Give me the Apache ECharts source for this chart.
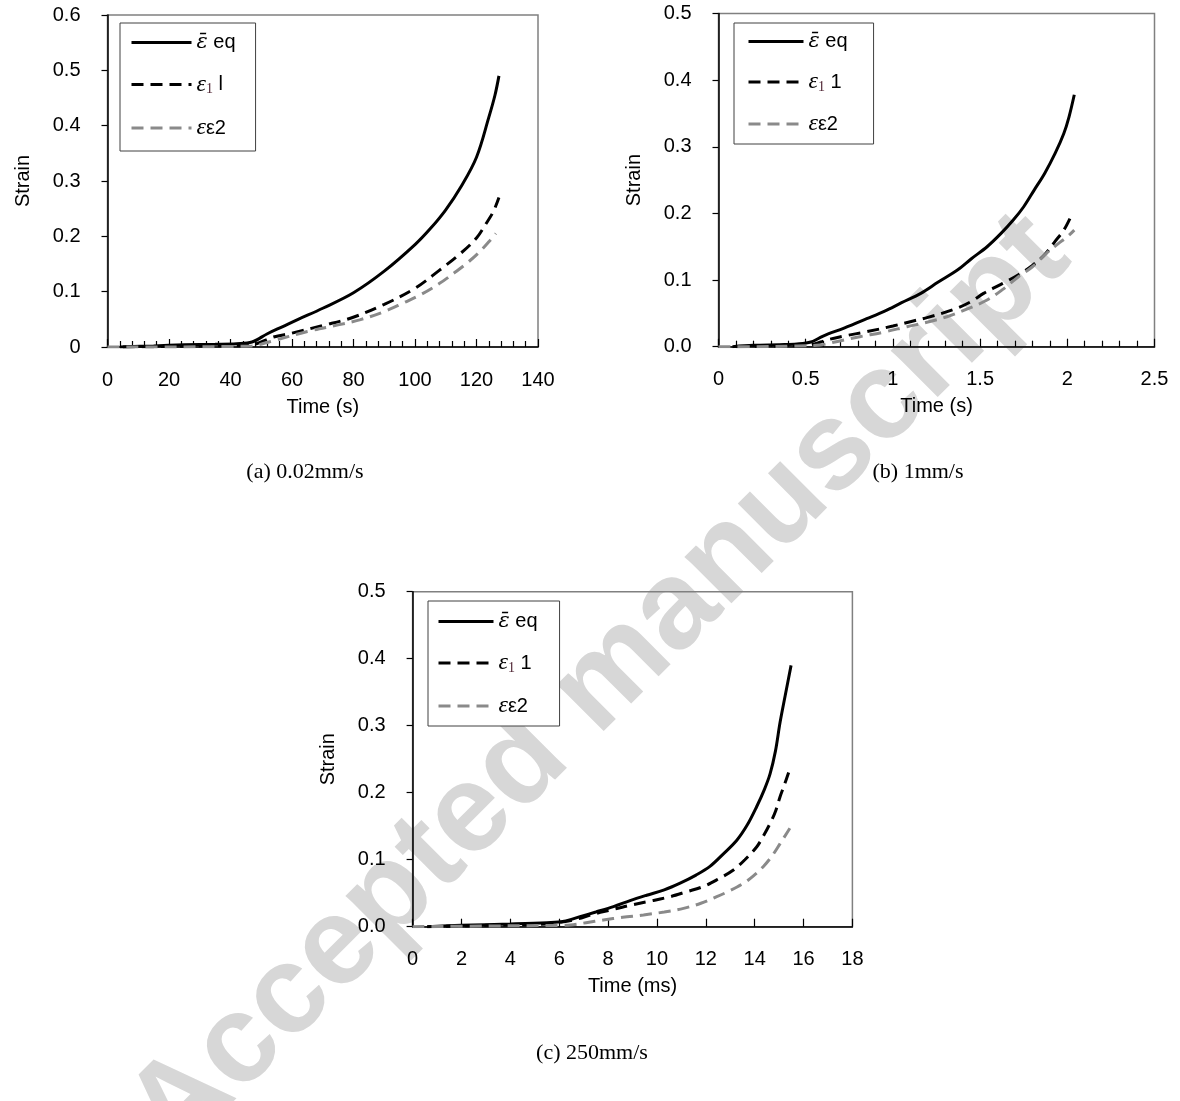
<!DOCTYPE html>
<html>
<head>
<meta charset="utf-8">
<title>Strain vs time</title>
<script src="https://cdn.jsdelivr.net/npm/echarts@6/dist/echarts.min.js"></script>
<style>
  html, body { margin: 0; padding: 0; background: #fff; }
  #chart { width: 1180px; height: 1101px; }
</style>
</head>
<body>
<div id="chart"></div>
<script>
// (a) 0.02mm/s, time in s
const tEqA = [4, 15, 25, 35, 42, 47, 52, 57, 62, 70, 80, 90, 100, 105, 110, 115, 120, 124, 126, 127.3]
const eqA = [0, 0.002, 0.004, 0.005, 0.006, 0.009, 0.024, 0.037, 0.05, 0.07, 0.098, 0.137, 0.185, 0.214, 0.248, 0.29, 0.343, 0.415, 0.455, 0.49]
const tE1A = [5, 20, 35, 45, 48, 54, 60, 70, 79, 90, 100, 108, 115, 120, 123, 125.5, 127.3]
const e1A = [0, 0.001, 0.002, 0.003, 0.005, 0.018, 0.025, 0.039, 0.052, 0.077, 0.106, 0.139, 0.17, 0.197, 0.222, 0.245, 0.27]
const tE2A = [0, 20, 40, 47, 53, 65, 75, 82, 90, 96, 102, 108, 113, 117, 121, 124, 126.3]
const e2A = [0, 0, 0.001, 0.002, 0.01, 0.028, 0.04, 0.049, 0.064, 0.079, 0.095, 0.115, 0.135, 0.152, 0.172, 0.19, 0.205]

// (b) 1mm/s, time in s
const tEqB = [0.08, 0.2, 0.35, 0.45, 0.53, 0.6, 0.72, 0.85, 0.95, 1.05, 1.16, 1.26, 1.37, 1.45, 1.54, 1.62, 1.69, 1.75, 1.81, 1.87, 1.93, 1.98, 2.01, 2.04]
const eqB = [0, 0.002, 0.003, 0.004, 0.007, 0.016, 0.028, 0.042, 0.053, 0.066, 0.08, 0.097, 0.115, 0.132, 0.15, 0.17, 0.19, 0.21, 0.235, 0.26, 0.29, 0.32, 0.345, 0.378]
const tE1B = [0.1, 0.3, 0.5, 0.55, 0.62, 0.72, 0.85, 1.0, 1.1, 1.2, 1.35, 1.45, 1.52, 1.63, 1.72, 1.8, 1.87, 1.93, 1.98, 2.02]
const e1B = [0, 0.001, 0.002, 0.004, 0.01, 0.016, 0.0225, 0.031, 0.0375, 0.044, 0.056, 0.068, 0.08, 0.095, 0.108, 0.122, 0.138, 0.158, 0.175, 0.195]
const tE2B = [0, 0.2, 0.45, 0.58, 0.7, 0.81, 0.95, 1.08, 1.2, 1.31, 1.42, 1.54, 1.63, 1.72, 1.8, 1.88, 1.95, 2.0, 2.04]
const e2B = [0, 0, 0.001, 0.0025, 0.009, 0.015, 0.022, 0.03, 0.037, 0.045, 0.056, 0.07, 0.086, 0.105, 0.12, 0.14, 0.155, 0.165, 0.175]

// (c) 250mm/s, time in ms
const tEqC = [0.6, 2, 4, 5.5, 6.2, 6.85, 7.5, 8.22, 8.9, 9.58, 10.3, 10.95, 11.6, 12.17, 12.7, 13.27, 13.7, 14.08, 14.4, 14.63, 14.85, 15.04, 15.25, 15.49]
const eqC = [0, 0.002, 0.004, 0.006, 0.008, 0.015, 0.022, 0.03, 0.039, 0.047, 0.055, 0.065, 0.077, 0.09, 0.108, 0.129, 0.152, 0.179, 0.205, 0.228, 0.262, 0.305, 0.345, 0.39]
const tE1C = [0.6, 3, 5.5, 6.18, 6.8, 7.27, 8.1, 8.9, 9.7, 10.54, 11.2, 11.9, 12.5, 13.13, 13.6, 14.08, 14.35, 14.63, 14.85, 15.04, 15.2, 15.39]
const e1C = [0, 0.002, 0.004, 0.0075, 0.012, 0.0175, 0.025, 0.032, 0.038, 0.0448, 0.052, 0.06, 0.071, 0.0846, 0.1, 0.119, 0.135, 0.154, 0.172, 0.194, 0.21, 0.23]
const tE2C = [0, 3, 6, 6.45, 7.1, 7.81, 8.6, 9.45, 10.3, 11.09, 11.8, 12.45, 13.0, 13.54, 13.95, 14.35, 14.7, 15.04, 15.25, 15.44]
const e2C = [0, 0.001, 0.002, 0.0025, 0.006, 0.01, 0.014, 0.0175, 0.022, 0.0274, 0.035, 0.0448, 0.054, 0.0647, 0.076, 0.0896, 0.105, 0.124, 0.136, 0.147]

// axis ticks
const xMaxA = 140, xStepA = 20
const xMaxB = 2.5, xStepB = 0.5
const xMaxC = 18, xStepC = 2
const yMaxA = 0.6, yMaxB = 0.5, yMaxC = 0.5, yStep = 0.1

const captions = ['(a) 0.02mm/s', '(b) 1mm/s', '(c) 250mm/s']
const legendText = {
  eqA: '{gb|ε\u0304}{t| eq}', e1A: '{g|ε}{s|1}{t| l}', e2A: '{g|ε}{t|ε2}',
  eqB: '{gb|ε\u0304}{t| eq}', e1B: '{g|ε}{s|1}{t| 1}', e2B: '{g|ε}{t|ε2}',
  eqC: '{gb|ε\u0304}{t| eq}', e1C: '{g|ε}{s|1}{t| 1}', e2C: '{g|ε}{t|ε2}'
}

const SANS = 'Liberation Sans'
const SERIF = 'Liberation Serif'

function zip(ts, vs) {
  return ts.map((t, i) => [t, vs[i]])
}

function xAxis(gridIndex, max, interval, minor, name) {
  return {
    type: 'value', gridIndex: gridIndex, min: 0, max: max, interval: interval,
    name: name, nameLocation: 'middle', nameGap: 50,
    nameTextStyle: { color: '#000', fontSize: 20, fontFamily: SANS },
    axisLine: { show: true, onZero: false, lineStyle: { color: '#000', width: 1.5 } },
    axisTick: { show: true, inside: true, length: 8, lineStyle: { color: '#000', width: 1.2 } },
    minorTick: { show: minor, splitNumber: 5, length: 6, lineStyle: { color: '#000', width: 1.2 } },
    splitLine: { show: false },
    axisLabel: { color: '#000', fontSize: 20, fontFamily: SANS, margin: 23 }
  }
}

function yAxis(gridIndex, max, fixed) {
  return {
    type: 'value', gridIndex: gridIndex, min: 0, max: max, interval: yStep,
    name: 'Strain', nameLocation: 'middle', nameGap: 74,
    nameTextStyle: { color: '#000', fontSize: 20, fontFamily: SANS },
    axisLine: { show: true, onZero: false, lineStyle: { color: '#000', width: 1.5 } },
    axisTick: { show: true, inside: false, length: 6, lineStyle: { color: '#000', width: 1.2 } },
    splitLine: { show: false },
    axisLabel: {
      color: '#000', fontSize: 20, fontFamily: SANS, margin: 27,
      formatter: v => fixed ? v.toFixed(1) : String(+v.toFixed(1))
    }
  }
}

function grid(left, top, right, bottom) {
  return { left, top, right, bottom, show: true, borderColor: '#808080', borderWidth: 1.5 }
}

const lineStyles = {
  eq: { color: '#000', width: 3, type: 'solid' },
  e1: { color: '#000', width: 3, type: [12, 7] },
  e2: { color: '#8a8a8a', width: 3, type: [12, 7] }
}

function line(name, idx, data, kind) {
  const st = lineStyles[kind]
  return {
    name: name, type: 'line', xAxisIndex: idx, yAxisIndex: idx, data: data,
    symbol: 'none', smooth: 0.35, color: st.color,
    lineStyle: { color: st.color, width: st.width, type: st.type }
  }
}

const rich = {
  gb: { fontFamily: 'DejaVu Serif', fontStyle: 'italic', fontSize: 21, lineHeight: 24, color: '#000' },
  g: { fontFamily: SERIF, fontStyle: 'italic', fontSize: 24, lineHeight: 24, color: '#000' },
  s: { fontFamily: SERIF, fontSize: 14, lineHeight: 12, verticalAlign: 'bottom', color: '#4a1f2e' },
  t: { fontFamily: SANS, fontSize: 20, lineHeight: 24, color: '#000' }
}

function legend(names, kinds, left, top, width, padding, gap) {
  return {
    orient: 'vertical', left: left, top: top,
    data: names.map((n, i) => ({
      name: n,
      lineStyle: { color: lineStyles[kinds[i]].color, width: 3, type: lineStyles[kinds[i]].type },
      itemStyle: { opacity: 0 }
    })),
    itemWidth: width, itemHeight: 14, itemGap: gap, padding: padding,
    backgroundColor: '#fff', borderColor: '#404040', borderWidth: 1, selectedMode: false,
    formatter: n => legendText[n],
    textStyle: { rich: rich }
  }
}

function caption(text, x, y) {
  return {
    type: 'text', x: x, y: y,
    style: {
      text: text, font: '22px "Liberation Serif"', fill: '#000',
      align: 'center', verticalAlign: 'middle', textAlign: 'center', textVerticalAlign: 'middle'
    }
  }
}

const chart = echarts.init(document.getElementById('chart'))

chart.setOption({
  backgroundColor: '#fff',
  animation: false,
  grid: [
    grid(107.5, 15, 642, 754),
    grid(718.5, 13.5, 25.5, 754.3),
    grid(412.6, 591.7, 327.6, 174.3)
  ],
  xAxis: [
    xAxis(0, xMaxA, xStepA, true, 'Time (s)'),
    xAxis(1, xMaxB, xStepB, true, 'Time (s)'),
    xAxis(2, xMaxC, xStepC, false, 'Time (ms)')
  ],
  yAxis: [
    yAxis(0, yMaxA, false),
    yAxis(1, yMaxB, true),
    yAxis(2, yMaxC, true)
  ],
  legend: [
    legend(['eqA', 'e1A', 'e2A'], ['eq', 'e1', 'e2'], 120, 23, 60, [9, 20, 11, 10], 19.5),
    legend(['eqB', 'e1B', 'e2B'], ['eq', 'e1', 'e2'], 734, 23, 55, [8, 26, 8, 13], 18),
    legend(['eqC', 'e1C', 'e2C'], ['eq', 'e1', 'e2'], 428, 601, 55, [10, 22, 8, 9], 19)
  ],
  series: [
    line('eqA', 0, zip(tEqA, eqA), 'eq'),
    line('e1A', 0, zip(tE1A, e1A), 'e1'),
    line('e2A', 0, zip(tE2A, e2A), 'e2'),
    line('eqB', 1, zip(tEqB, eqB), 'eq'),
    line('e1B', 1, zip(tE1B, e1B), 'e1'),
    line('e2B', 1, zip(tE2B, e2B), 'e2'),
    line('eqC', 2, zip(tEqC, eqC), 'eq'),
    line('e1C', 2, zip(tE1C, e1C), 'e1'),
    line('e2C', 2, zip(tE2C, e2C), 'e2')
  ],
  graphic: [
    {
      type: 'text', x: 600, y: 686, rotation: Math.PI / 4, z: -10, silent: true,
      style: {
        text: 'Accepted manuscript', font: 'bold 125px "Liberation Sans"', fill: '#d7d7d7',
        align: 'center', verticalAlign: 'middle', textAlign: 'center', textVerticalAlign: 'middle'
      }
    },
    caption(captions[0], 305, 472),
    caption(captions[1], 918, 472),
    caption(captions[2], 592, 1053)
  ]
})
</script>
</body>
</html>
